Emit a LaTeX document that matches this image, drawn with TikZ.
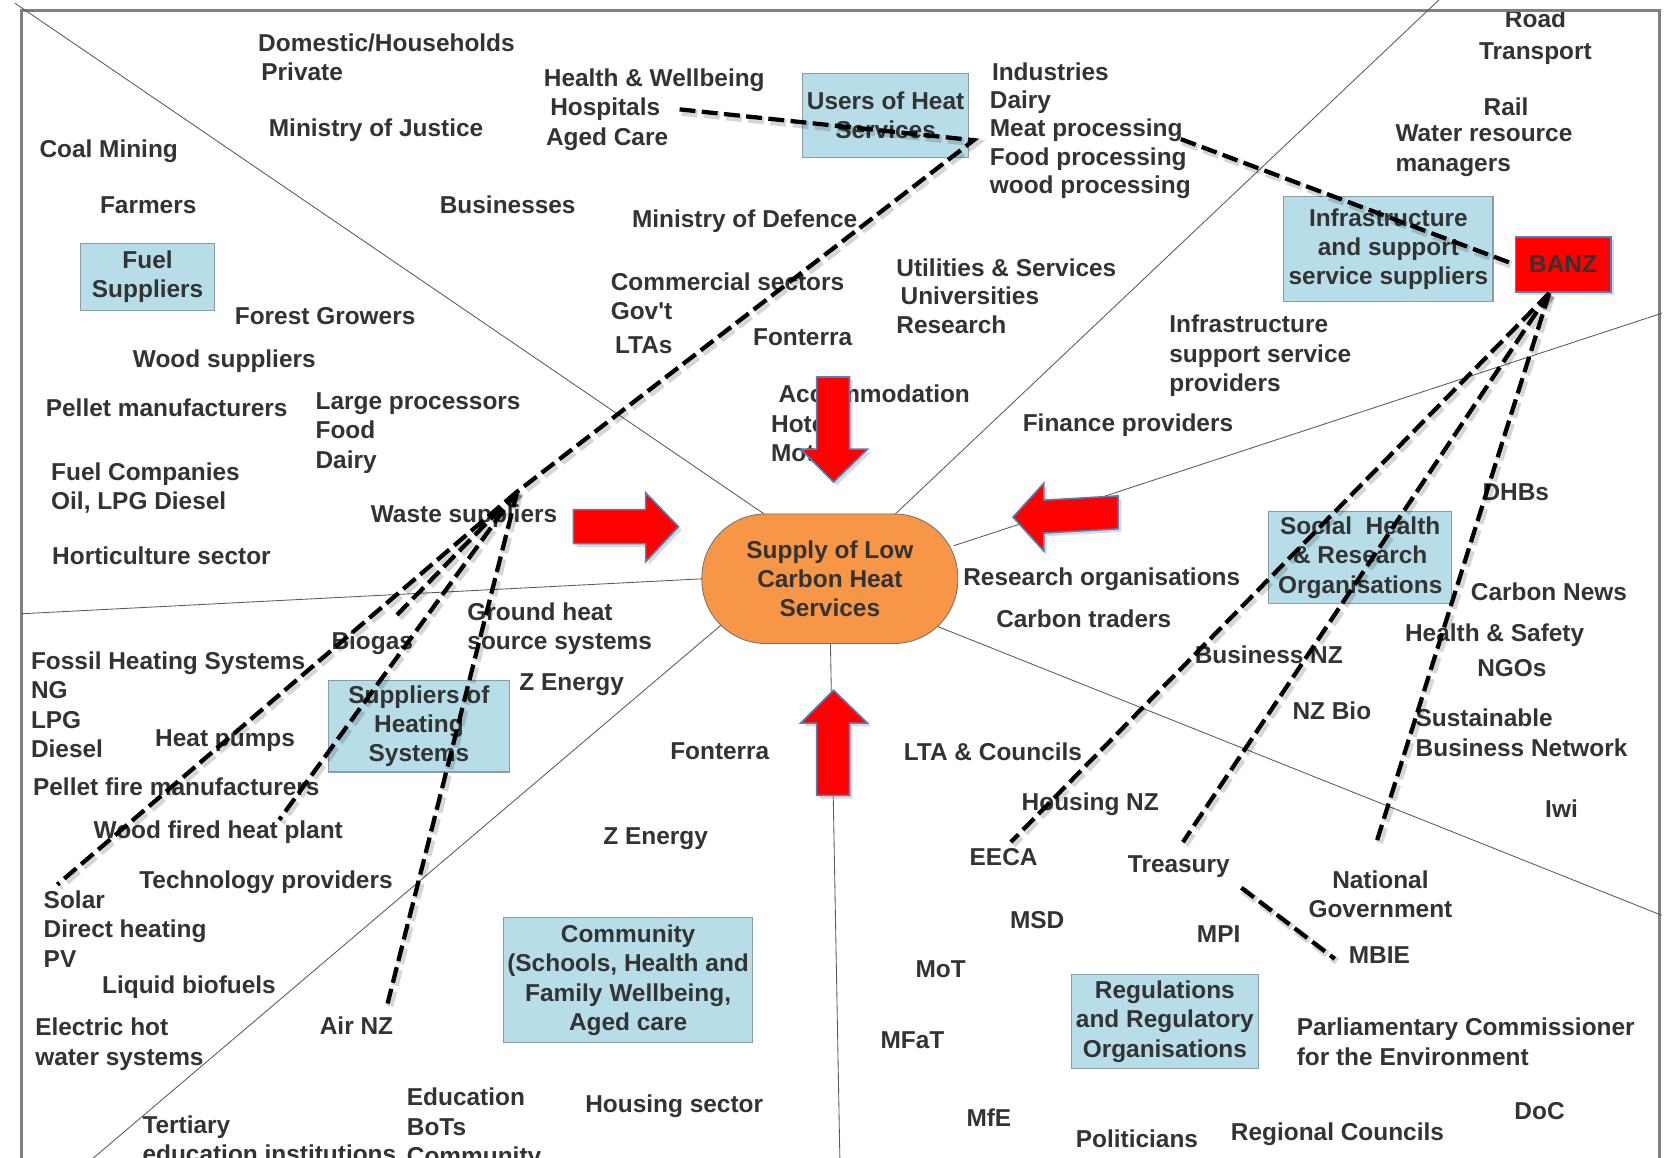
\documentclass[tikz,border=0pt]{standalone}
\usepackage{fontspec}
\setmainfont{Liberation Sans}
\usetikzlibrary{shadows}
\definecolor{txt}{HTML}{333333}
\definecolor{boxblue}{HTML}{B7DEE8}
\definecolor{boxedge}{HTML}{8C9CA3}
\definecolor{orangeF}{HTML}{F79646}
\definecolor{arrowedge}{HTML}{4F81BD}
\definecolor{frameg}{HTML}{808080}
\definecolor{thin}{HTML}{5A5A5A}
\newcommand\straightquote{\XeTeXglyph\XeTeXglyphindex "quotesingle"\relax}
\tikzset{
  lbl/.style={anchor=north west, inner sep=0pt, yshift=8.4pt, align=left,
    font=\fontsize{23}{27.6}\selectfont\bfseries, text=txt},
  tightlbl/.style={lbl, font=\fontsize{23}{26.7}\selectfont\bfseries},
  bluebox/.style={draw=boxedge, fill=boxblue, line width=1pt, inner sep=0pt, align=center,
    font=\fontsize{23}{27.6}\selectfont\bfseries, text=txt},
  divider/.style={draw=thin, line width=0.8pt},
  dline/.style={draw=black, line width=4pt, dash pattern=on 15pt off 6pt},
  dshadow/.style={draw=black, opacity=0.16, line width=7pt, dash pattern=on 15pt off 6pt},
  redarrow/.style={fill=red, draw=arrowedge, line width=1.5pt, line join=miter,
    drop shadow={opacity=0.3, shadow xshift=3pt, shadow yshift=-3pt}},
}
\begin{document}
\begin{tikzpicture}[x=1pt,y=-1pt]
\useasboundingbox (0,0) rectangle (1568,1090);
\fill[white] (0,0) rectangle (1568,1090);
% frame
\draw[frameg, line width=3pt] (20,10) rectangle (1563,1120);
% dividers
\coordinate (d1a) at (14,3);     \coordinate (d1b) at (724,487);
\coordinate (d2a) at (1355,0);   \coordinate (d2b) at (840,487);
\coordinate (d3a) at (1565,295); \coordinate (d3b) at (898,514);
\coordinate (d4a) at (1565,862); \coordinate (d4b) at (883,590);
\coordinate (d5a) at (791,1095); \coordinate (d5b) at (782,603);
\coordinate (d6a) at (85,1093);  \coordinate (d6b) at (681,587);
\coordinate (d7a) at (20,578);   \coordinate (d7b) at (663,545);
\draw[divider] (d1a) -- (d1b);
\draw[divider] (d2a) -- (d2b);
\draw[divider] (d3a) -- (d3b);
\draw[divider] (d4a) -- (d4b);
\draw[divider] (d5a) -- (d5b);
\draw[divider] (d6a) -- (d6b);
\draw[divider] (d7a) -- (d7b);
% centre
\node[draw=black!55, line width=0.8pt, fill=orangeF, rounded corners=60pt,
  minimum width=241pt, minimum height=122pt, inner sep=0pt, align=center,
  font=\fontsize{23}{27.6}\selectfont\bfseries, text=txt] (sup) at (781.5,545)
  {Supply of Low\\Carbon Heat\\Services};
% boxes and texts
\begin{scope}
\clip (21.5,11.5) rectangle (1561.5,1090);
\node[bluebox, minimum width=156pt, minimum height=79pt] (uh) at (834,108.5) {Users of Heat\\Services};
\node[bluebox, minimum width=126pt, minimum height=63pt] (fuel) at (139,260.5) {Fuel\\Suppliers};
\node[bluebox, minimum width=197pt, minimum height=99pt] (infra) at (1307.5,234.5) {Infrastructure\\and support\\service suppliers};
\node[bluebox, minimum width=171pt, minimum height=86pt] (suph) at (394.5,684) {Suppliers of\\Heating\\Systems};
\node[bluebox, minimum width=172pt, minimum height=86pt] (social) at (1281,525) {Social\ \ Health\\\& Research\\Organisations};
\node[bluebox, minimum width=235pt, minimum height=118pt] (commu) at (591.5,923) {Community\\(Schools, Health and\\Family Wellbeing,\\Aged care};
\node[bluebox, minimum width=176pt, minimum height=88pt] (reg) at (1097,962) {Regulations\\and Regulatory\\Organisations};

\node[lbl] (dom) at (243,40) {Domestic/Households\\\hspace*{3pt}Private};
\node[lbl] (moj) at (253,120) {Ministry of Justice};
\node[lbl] (coal) at (37,140) {Coal Mining};
\node[lbl] (farm) at (94,193) {Farmers};
\node[lbl] (bus) at (414,193) {Businesses};
\node[lbl] (hw) at (512,73) {Health \& Wellbeing\\\hspace*{6pt}Hospitals\\\hspace*{2pt}Aged Care};
\node[tightlbl] (ind) at (932,67) {\hspace*{2pt}Industries\\Dairy\\Meat processing\\Food processing\\wood processing};
\node[lbl, anchor=north, align=center] (road) at (1446,17) {Road\\[2.5pt]Transport};
\node[lbl] (rail) at (1397,100) {Rail};
\node[lbl] (water) at (1314,126) {Water resource\\managers};
\node[lbl] (mod) at (595,206) {Ministry of Defence};
\node[lbl] (commsec) at (575,265) {Commercial sectors\\Gov\straightquote t};
\node[lbl] (ltas) at (579,325) {LTAs};
\node[lbl] (font1) at (709,318) {Fonterra};
\node[tightlbl] (util) at (844,252) {Utilities \& Services\\\hspace*{4pt}Universities\\Research};
\node[lbl] (forest) at (221,298) {Forest Growers};
\node[lbl] (woods) at (125,338) {Wood suppliers};
\node[lbl] (pellet) at (43,384) {Pellet manufacturers};
\node[lbl] (large) at (297,378) {Large processors\\Food\\Dairy};
\node[lbl] (accom) at (726,371) {\hspace*{7pt}Accommodation\\Hotels\\Motels};
\node[lbl] (fin) at (963,398) {Finance providers};
\node[lbl] (infsup) at (1101,305) {Infrastructure\\support service\\providers};
\node[lbl] (fuelco) at (48,444) {Fuel Companies\\Oil, LPG Diesel};
\node[lbl] (hort) at (49,523) {Horticulture sector};
\node[lbl] (waste) at (349,484) {Waste suppliers};
\node[lbl] (dhb) at (1396,464) {DHBs};
\node[lbl] (resorg) at (907,543) {Research organisations};
\node[lbl] (ctrade) at (938,582) {Carbon traders};
\node[lbl] (cnews) at (1385,557) {Carbon News};
\node[lbl] (hs) at (1323,596) {Health \& Safety};
\node[lbl] (ngo) at (1391,629) {NGOs};
\node[lbl] (bnz) at (1125,616) {Business NZ};
\node[lbl] (nzbio) at (1217,669) {NZ Bio};
\node[lbl] (sbn) at (1333,676) {Sustainable\\Business Network};
\node[lbl] (iwi) at (1455,761) {Iwi};
\node[lbl] (ground) at (440,576) {Ground heat\\source systems};
\node[lbl] (biogas) at (312,603) {Biogas};
\node[lbl] (zen1) at (489,643) {Z Energy};
\node[lbl] (fossil) at (29,622) {Fossil Heating Systems\\NG\\LPG\\Diesel};
\node[lbl] (hp) at (146,695) {Heat pumps};
\node[lbl] (pfm) at (31,741) {Pellet fire manufacturers};
\node[lbl] (wfhp) at (88,781) {Wood fired heat plant};
\node[lbl] (tech) at (131,828) {Technology providers};
\node[lbl] (solar) at (41,847) {Solar\\Direct heating\\PV};
\node[lbl] (liq) at (96,927) {Liquid biofuels};
\node[lbl] (ehw) at (33,967) {Electric hot\\water systems};
\node[lbl] (air) at (301,966) {Air NZ};
\node[lbl] (tert) at (134,1059) {Tertiary\\education institutions};
\node[lbl] (edu) at (383,1033) {Education\\BoTs\\Community};
\node[lbl] (hsec) at (551,1039) {Housing sector};
\node[lbl] (font2) at (631,708) {Fonterra};
\node[lbl] (zen2) at (568,788) {Z Energy};
\node[lbl] (ltac) at (851,708) {LTA \& Councils};
\node[lbl] (hnz) at (962,755) {Housing NZ};
\node[lbl] (eeca) at (913,807) {EECA};
\node[lbl] (treas) at (1062,814) {Treasury};
\node[lbl, anchor=north, align=center] (natg) at (1300,828) {National\\Government};
\node[lbl] (msd) at (951,867) {MSD};
\node[lbl] (mpi) at (1127,880) {MPI};
\node[lbl] (mbie) at (1270,900) {MBIE};
\node[lbl] (mot) at (862,913) {MoT};
\node[lbl] (mfat) at (829,980) {MFaT};
\node[lbl] (pce) at (1221,967) {Parliamentary Commissioner\\for the Environment};
\node[lbl] (mfe) at (910,1052) {MfE};
\node[lbl] (pol) at (1013,1072) {Politicians};
\node[lbl] (regc) at (1159,1066) {Regional Councils};
\node[lbl] (doc) at (1426,1046) {DoC};
\end{scope}
% red block arrows
\path[redarrow] (769,355) -- (800,355) -- (800,423) -- (817,423) -- (785,454) -- (754,423) -- (769,423) -- cycle;
\path[redarrow] (785,650) -- (817,681) -- (800,681) -- (800,749) -- (769,749) -- (769,681) -- (754,681) -- cycle;
\path[redarrow] (540,480) -- (608,480) -- (608,464) -- (639,496) -- (608,529) -- (608,512) -- (540,512) -- cycle;
\path[redarrow] (954,487) -- (983,455) -- (983,471) -- (1053,467) -- (1053,498) -- (983,502) -- (983,519) -- cycle;
% BANZ
\node[fill=red, draw=arrowedge, line width=1.5pt, minimum width=90pt, minimum height=52pt, inner sep=0pt,
  drop shadow={opacity=0.3, shadow xshift=3pt, shadow yshift=-3pt},
  font=\fontsize{23}{27.6}\selectfont\bfseries, text=txt] (banz) at (1472,249) {BANZ};
% dashed connectors
\coordinate (hubW) at (487,463);
\coordinate (uhR) at (917,132);
\coordinate (hospE) at (640,103);
\coordinate (meatE) at (1112,131);
\coordinate (solE) at (54,833);
\coordinate (bioE) at (371,582);
\coordinate (plantE) at (263,772);
\coordinate (airE) at (365,945);
\coordinate (hubB) at (1459,276);
\coordinate (eecaE) at (952,793);
\coordinate (treasE) at (1114,793);
\coordinate (natE) at (1296,794);
\coordinate (tmA) at (1169,836);
\coordinate (tmB) at (1257,903);
\begin{scope}[transform canvas={shift={(2pt,-2.5pt)}}]
\draw[dshadow] (hospE) -- (uhR) -- (hubW);
\draw[dshadow] (hubW) -- (solE);
\draw[dshadow] (hubW) -- (bioE);
\draw[dshadow] (hubW) -- (plantE);
\draw[dshadow] (hubW) -- (airE);
\draw[dshadow] (meatE) -- (banz.west);
\draw[dshadow] (hubB) -- (eecaE);
\draw[dshadow] (hubB) -- (treasE);
\draw[dshadow] (hubB) -- (natE);
\draw[dshadow] (tmA) -- (tmB);
\end{scope}
\draw[dline] (hospE) -- (uhR) -- (hubW);
\draw[dline] (hubW) -- (solE);
\draw[dline] (hubW) -- (bioE);
\draw[dline] (hubW) -- (plantE);
\draw[dline] (hubW) -- (airE);
\draw[dline] (meatE) -- (banz.west);
\draw[dline] (hubB) -- (eecaE);
\draw[dline] (hubB) -- (treasE);
\draw[dline] (hubB) -- (natE);
\draw[dline] (tmA) -- (tmB);
\end{tikzpicture}
\end{document}
